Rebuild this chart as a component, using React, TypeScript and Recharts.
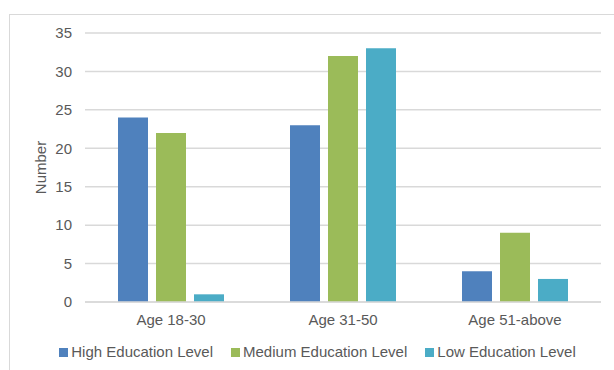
import React from 'react';
import {
  BarChart,
  Bar,
  XAxis,
  YAxis,
  CartesianGrid,
  Legend,
} from 'recharts';

const ageGroups = ['Age 18-30', 'Age 31-50', 'Age 51-above'];
const highEducation = [24, 23, 4];
const mediumEducation = [22, 32, 9];
const lowEducation = [1, 33, 3];
const yTicks = [0, 5, 10, 15, 20, 25, 30, 35];

const series = [
  { key: 'high', name: 'High Education Level', color: '#4f81bd' },
  { key: 'medium', name: 'Medium Education Level', color: '#9bbb59' },
  { key: 'low', name: 'Low Education Level', color: '#4bacc6' },
];

const rows = ageGroups.map((group, i) => ({
  group,
  high: highEducation[i],
  medium: mediumEducation[i],
  low: lowEducation[i],
}));

const FONT = '"Liberation Sans", Arial, sans-serif';
const TEXT = '#595959';
const GRID = '#d9d9d9';

// Legend in series order, icon hugging its text
function SeriesLegend() {
  return (
    <div
      style={{
        display: 'flex',
        justifyContent: 'center',
        gap: 18,
        paddingLeft: 34,
        fontSize: 15,
        fontFamily: FONT,
        color: TEXT,
        lineHeight: '20px',
      }}
    >
      {series.map((s) => (
        <span key={s.key} style={{ display: 'inline-flex', alignItems: 'center' }}>
          <span style={{ width: 9, height: 9, background: s.color, marginRight: 3, display: 'inline-block' }} />
          {s.name}
        </span>
      ))}
    </div>
  );
}

function AxisTitle({ viewBox }: any) {
  const cx = viewBox.x + 40;
  const cy = viewBox.y + viewBox.height / 2;
  return (
    <text
      x={cx}
      y={cy}
      transform={`rotate(-90 ${cx} ${cy})`}
      textAnchor="middle"
      dominantBaseline="central"
      fill={TEXT}
      fontSize={15}
      fontFamily={FONT}
    >
      Number
    </text>
  );
}

export default function App() {
  return (
    <div style={{ position: 'absolute', left: 0, top: 0, width: 614, height: 370, background: '#fff', overflow: 'hidden', fontFamily: FONT }}>
      <div
        style={{
          position: 'absolute',
          left: 9,
          top: 14,
          width: 640,
          height: 400,
          border: `1px solid ${GRID}`,
        }}
      />
      <BarChart
        width={614}
        height={370}
        data={rows}
        margin={{ top: 33, right: 13, left: 0, bottom: 8 }}
        barCategoryGap="19%"
        barGap={8}
        style={{ position: 'absolute', left: 0, top: 0 }}
      >
        <CartesianGrid vertical={false} stroke={GRID} strokeWidth={1.5} />
        <XAxis
          dataKey="group"
          tick={{ fill: TEXT, fontSize: 15, fontFamily: FONT }}
          tickLine={false}
          axisLine={{ stroke: GRID, strokeWidth: 1.5 }}
          height={40}
          tickMargin={6}
        />
        <YAxis
          domain={[0, 35]}
          ticks={yTicks}
          width={85}
          tick={{ fill: TEXT, fontSize: 15, fontFamily: FONT }}
          tickLine={false}
          axisLine={false}
          tickSize={0}
          tickMargin={13}
          label={<AxisTitle />}
        />
        <Legend verticalAlign="bottom" height={20} content={<SeriesLegend />} />
        {series.map((s) => (
          <Bar
            key={s.key}
            dataKey={s.key}
            name={s.name}
            fill={s.color}
            barSize={30}
            isAnimationActive={false}
          />
        ))}
      </BarChart>
    </div>
  );
}
